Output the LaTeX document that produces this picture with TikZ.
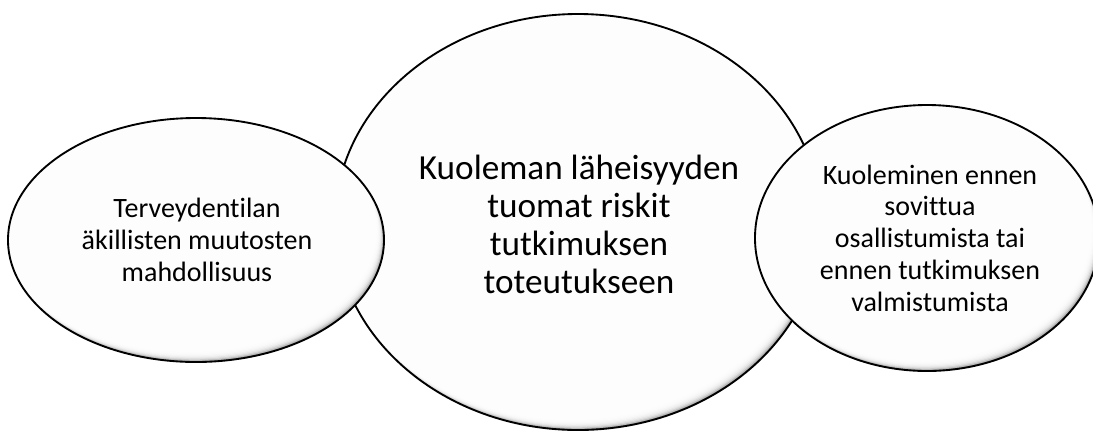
\documentclass[tikz,border=0pt]{standalone}
\usepackage{fontspec}
\setmainfont{Carlito}[RawFeature={-liga;-clig;-calt;-dlig}]
\usetikzlibrary{calc}
\tikzset{
  rim/.style={draw=black,line width=1.4pt},
  inshade/.style={fill=black!45},
  glow/.style={fill=white,opacity=0.4},
  sidetxt/.style={align=center,font=\fontsize{21}{23.8}\selectfont},
  maintxt/.style={align=center,font=\fontsize{26.4}{28.5}\selectfont}
}
% shaded bubble: centre, x radius, y radius
\newcommand\bubble[3]{%
  \begin{scope}
    \clip (#1) ellipse[x radius=#2,y radius=#3];
    \fill[inshade] (#1) ellipse[x radius=#2,y radius=#3];
    \foreach \k in {1,...,10}
      \fill[glow] ($(#1)+(-0.8*\k,-1.1*\k)$) ellipse[x radius=#2,y radius=#3];
  \end{scope}
  \draw[rim] (#1) ellipse[x radius=#2,y radius=#3];}
\begin{document}
\begin{tikzpicture}[x=0.75pt,y=-0.75pt]
  \useasboundingbox (0,0) rectangle (1093,430);
  \coordinate (Cmid) at (578,222);
  \coordinate (Cleft) at (196,240);
  \coordinate (Cright) at (927,238);
  \bubble{Cmid}{243}{208}
  \bubble{Cleft}{188}{122}
  \bubble{Cright}{172}{133}
  \node[maintxt] (risk) at (579,224) {Kuoleman läheisyyden\\tuomat riskit\\tutkimuksen\\toteutukseen};
  \node[sidetxt] (health) at (197,240) {Terveydentilan\\äkillisten muutosten\\mahdollisuus};
  \node[sidetxt] (death) at (930,238) {Kuoleminen ennen\\sovittua\\osallistumista tai\\ennen tutkimuksen\\valmistumista};
\end{tikzpicture}
\end{document}
